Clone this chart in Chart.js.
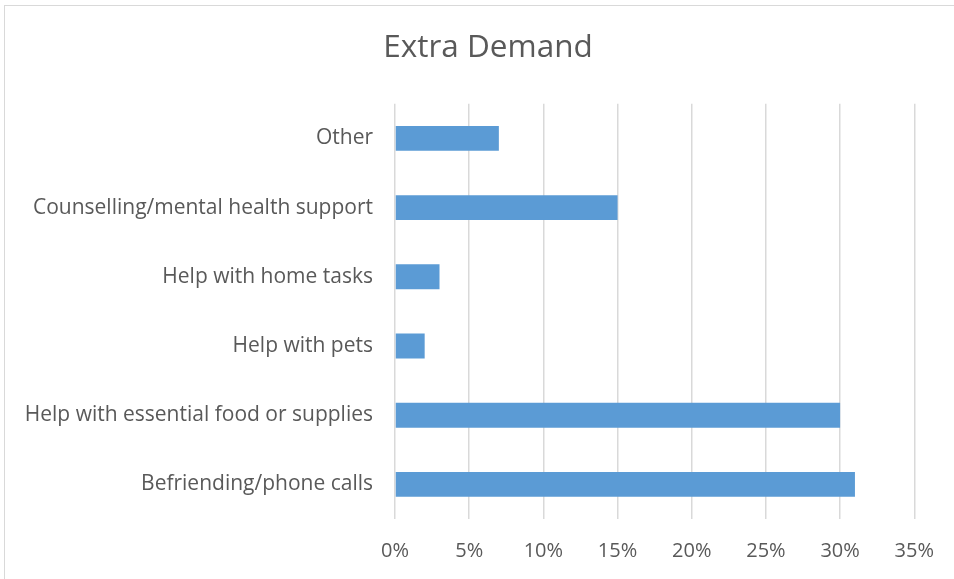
<!DOCTYPE html>
<html>
<head>
<meta charset="utf-8">
<script src="https://cdn.jsdelivr.net/npm/chart.js@4/dist/chart.umd.min.js"></script>
<style>
    html, body { margin: 0; padding: 0; background: #fff; overflow: hidden; }
    #frame { position: absolute; left: 4px; top: 5px; width: 1200px; height: 800px; border: 1px solid #d9d9d9; }
    #wrap { position: absolute; left: 0; top: 0; width: 954px; height: 579px; }
</style>
</head>
<body>
<div id="frame"></div>
<div id="wrap"><canvas id="myChart"></canvas></div>
<script>
const categories = [
    'Other',
    'Counselling/mental health support',
    'Help with home tasks',
    'Help with pets',
    'Help with essential food or supplies',
    'Befriending/phone calls'
];
const demandValues = [7, 15, 3, 2, 30, 31];
const tickValues = [0, 5, 10, 15, 20, 25, 30, 35];

// the title sits centred over the whole frame, not just the chart box
const titleShift = {
    id: 'titleShift',
    afterLayout: function (chart) {
        const t = chart.titleBlock;
        if (t) {
            t.left = 22;
            t.right = chart.width;
        }
    }
};

document.addEventListener('DOMContentLoaded', function () {
    const textColor = '#595959';
    const fontFamily = '"Open Sans", sans-serif';

    const ctx = document.getElementById('myChart').getContext('2d');
    new Chart(ctx, {
        type: 'bar',
        data: {
            labels: categories,
            datasets: [{
                label: 'Extra Demand',
                data: demandValues,
                backgroundColor: '#5b9bd5',
                borderWidth: 0,
                barPercentage: 0.36,
                categoryPercentage: 1
            }]
        },
        options: {
            indexAxis: 'y',
            responsive: true,
            maintainAspectRatio: false,
            animation: false,
            layout: {
                padding: { left: 0, right: 37, top: 0, bottom: 0 }
            },
            plugins: {
                legend: { display: false },
                tooltip: { enabled: false },
                title: {
                    display: true,
                    text: 'Extra Demand',
                    color: textColor,
                    font: { family: fontFamily, size: 31.5, weight: 'normal' },
                    padding: { top: 29, bottom: 37 }
                }
            },
            scales: {
                x: {
                    min: 0,
                    max: 35,
                    afterBuildTicks: function (scale) {
                        scale.ticks = tickValues.map(v => ({ value: v }));
                    },
                    afterFit: function (scale) {
                        scale.height = 60;
                    },
                    ticks: {
                        color: textColor,
                        font: { family: fontFamily, size: 20 },
                        padding: 20,
                        callback: function (value) {
                            return value + '%';
                        }
                    },
                    grid: {
                        color: '#d9d9d9',
                        lineWidth: 1.5,
                        drawTicks: false
                    },
                    border: { display: false }
                },
                y: {
                    afterFit: function (scale) {
                        scale.width = 395;
                    },
                    ticks: {
                        color: textColor,
                        font: { family: fontFamily, size: 21 },
                        padding: 22
                    },
                    grid: { display: false, drawTicks: false },
                    border: { display: false }
                }
            }
        },
        plugins: [titleShift]
    });
});
</script>
</body>
</html>
